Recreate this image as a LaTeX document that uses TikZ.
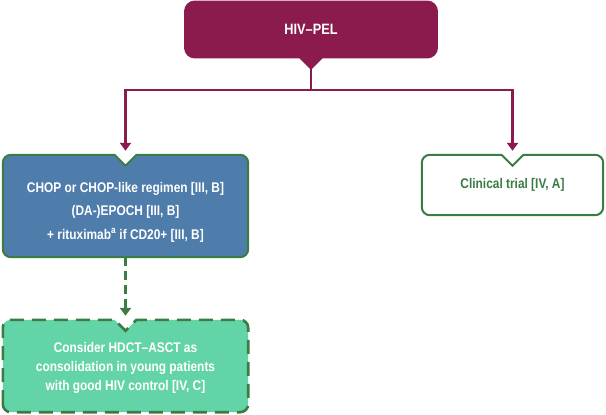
\documentclass[tikz,border=0pt]{standalone}
\usepackage{fontspec}
\setmainfont{Liberation Sans}[FakeStretch=0.85]
\usetikzlibrary{arrows.meta,backgrounds}

\definecolor{pelred}{HTML}{8A1B4C}
\definecolor{chopblue}{HTML}{4E7CAB}
\definecolor{boxgreen}{HTML}{3B7C45}
\definecolor{mint}{HTML}{63D3A8}

\tikzset{
  boxtxt/.style={font=\bfseries\fontsize{14}{23.5}\selectfont, align=center, text=white},
  boxline/.style={draw=boxgreen, line width=2pt},
  pelarrow/.style={draw=pelred, line width=2.2pt, -{Triangle[width=11pt,length=8pt]}},
  optarrow/.style={draw=boxgreen, line width=2.4pt, dash pattern=on 9pt off 5pt,
    -{Triangle[width=11pt,length=8pt]}},
}

\begin{document}
\begin{tikzpicture}[x=1pt,y=1pt]

  \newcommand\notchW{11pt};
  \newcommand\notchD{11pt};

  \useasboundingbox (0,0) rectangle (606,-415); %% page size

  \node[boxtxt, font=\bfseries\fontsize{15}{17}\selectfont,
    minimum width=252pt, minimum height=56pt] (hiv) at (311,-29.5) {HIV--PEL};
  \node[boxtxt, minimum width=245pt, minimum height=102pt] (chop) at (125.5,-206)
    {\rule{0pt}{22pt}CHOP or CHOP-like regimen [III, B]\\(DA-)EPOCH [III, B]\\
     + rituximab\textsuperscript{a} if CD20+ [III, B]};
  \node[boxtxt, text=boxgreen, minimum width=181pt, minimum height=60pt] (trial)
    at (512.5,-185) {Clinical trial [IV, A]};
  \node[boxtxt, font=\bfseries\fontsize{14}{19}\selectfont,
    minimum width=245pt, minimum height=92pt] (hdct) at (125.5,-366)
    {\rule{0pt}{14pt}Consider HDCT--ASCT as\\consolidation in young patients\\
     with good HIV control [IV, C]};

  \begin{pgfonlayer}{background}
  %% HIV-PEL box, notch below
  \draw[draw=pelred, line width=1.5pt, fill=pelred, rounded corners=10pt]
    (hiv.north west) -- (hiv.north east) -- (hiv.south east)
    -- ([xshift=20pt]hiv.south) [sharp corners] -- ([xshift=\notchW]hiv.south)
    -- ([yshift=-\notchD]hiv.south) -- ([xshift=-\notchW]hiv.south)
    [rounded corners=10pt] -- ([xshift=-20pt]hiv.south) -- (hiv.south west) -- cycle;

  %% first line box
  \draw[boxline, fill=chopblue, rounded corners=8pt]
    (chop.south west) -- (chop.north west) -- ([xshift=-20pt]chop.north)
    [sharp corners] -- ([xshift=-\notchW]chop.north) -- ([yshift=-\notchD]chop.north)
    -- ([xshift=\notchW]chop.north) [rounded corners=8pt] -- ([xshift=20pt]chop.north)
    -- (chop.north east) -- (chop.south east) -- cycle;

  %% trial box
  \draw[boxline, fill=white, rounded corners=8pt]
    (trial.south west) -- (trial.north west) -- ([xshift=-20pt]trial.north)
    [sharp corners] -- ([xshift=-\notchW]trial.north) -- ([yshift=-\notchD]trial.north)
    -- ([xshift=\notchW]trial.north) [rounded corners=8pt] -- ([xshift=20pt]trial.north)
    -- (trial.north east) -- (trial.south east) -- cycle;

  %% consolidation box, dashed
  \draw[boxline, line width=2.6pt, dash pattern=on 14pt off 8pt, fill=mint,
    rounded corners=8pt]
    (hdct.south west) -- (hdct.north west) -- ([xshift=-20pt]hdct.north)
    [sharp corners] -- ([xshift=-\notchW]hdct.north) -- ([yshift=-\notchD]hdct.north)
    -- ([xshift=\notchW]hdct.north) [rounded corners=8pt] -- ([xshift=20pt]hdct.north)
    -- (hdct.north east) -- (hdct.south east) -- cycle;
  \end{pgfonlayer}

  \coordinate (split) at (hiv.south |- 0,-90);
  \draw[pelarrow] ([yshift=-\notchD]hiv.south) -- (split) -| ([yshift=4pt]chop.north);
  \draw[pelarrow] (split) -| ([yshift=4pt]trial.north);

  \draw[optarrow] (chop.south) -- ([yshift=4pt]hdct.north);

\end{tikzpicture}
\end{document}
